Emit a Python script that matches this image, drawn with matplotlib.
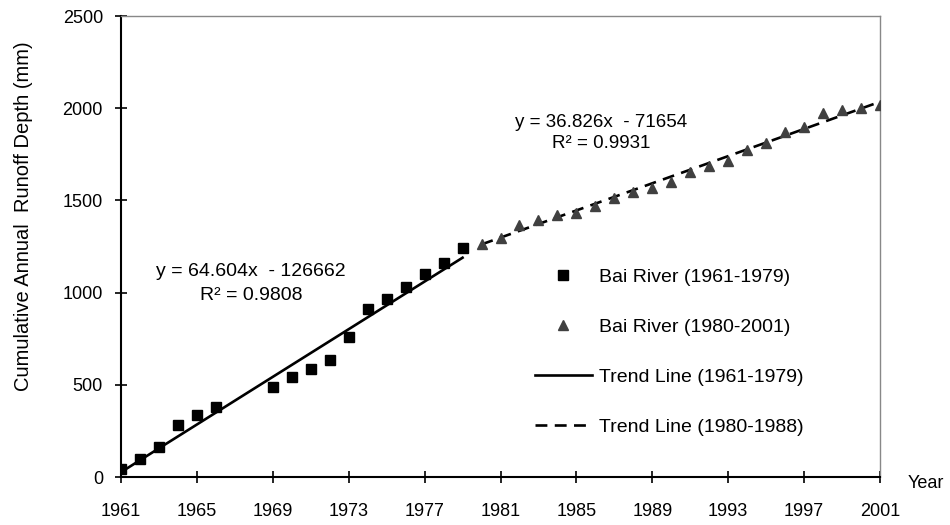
import numpy as np
import matplotlib.pyplot as plt

plt.rcParams['font.family'] = ['Liberation Sans', 'DejaVu Sans']

# Cumulative annual runoff depth (mm), Bai River
years_a = [1961, 1962, 1963, 1964, 1965, 1966, 1969, 1970, 1971, 1972,
           1973, 1974, 1975, 1976, 1977, 1978, 1979]
runoff_a = [43, 96, 164, 282, 336, 381, 490, 541, 586, 634,
            761, 911, 964, 1029, 1099, 1162, 1240]

years_b = list(range(1980, 2002))
runoff_b = [1265, 1294, 1367, 1394, 1421, 1433, 1468, 1511, 1547, 1566,
            1601, 1656, 1687, 1715, 1773, 1809, 1873, 1896, 1972, 1990,
            1999, 2017]

# trend line coefficients (slope, intercept, R^2)
fit_a = (64.604, -126662, 0.9808)
fit_b = (36.826, -71654, 0.9931)

xticks = list(range(1961, 2002, 4))
yticks = [0, 500, 1000, 1500, 2000, 2500]

fig = plt.figure(figsize=(9.5, 5.25), dpi=100)
ax = fig.add_axes([0.1274, 0.0914, 0.7989, 0.8781])

ax.plot(years_a, runoff_a, 's', color='black', markersize=7,
        label='Bai River (1961-1979)', zorder=3)
ax.plot(years_b, runoff_b, '^', color='#404040', markersize=7.5,
        label='Bai River (1980-2001)', zorder=3)

xa = np.array([years_a[0], years_a[-1]])
ax.plot(xa, fit_a[0] * xa + fit_a[1], '-', color='black', lw=1.9,
        label='Trend Line (1961-1979)')
xb = np.array([years_b[0], years_b[-1]])
ax.plot(xb, fit_b[0] * xb + fit_b[1], '--', color='black', lw=1.9,
        dashes=(4.5, 2.8), label='Trend Line (1980-1988)')

# regression equations
ax.text(1967.85, 1113, 'y = %.3fx  - %d' % (fit_a[0], -fit_a[1]),
        ha='center', va='center', fontsize=14)
ax.text(1967.85, 987, 'R² = %.4f' % fit_a[2], ha='center', va='center', fontsize=14)
ax.text(1986.3, 1925, 'y = %.3fx  - %d' % (fit_b[0], -fit_b[1]),
        ha='center', va='center', fontsize=13.5)
ax.text(1986.3, 1811, 'R² = %.4f' % fit_b[2], ha='center', va='center', fontsize=13.5)

ax.set_xlim(1961, 2001)
ax.set_ylim(0, 2500)
ax.set_xticks(xticks)
ax.set_yticks(yticks)
ax.tick_params(direction='inout', length=8, width=1.2, labelsize=13)
ax.tick_params(axis='y', pad=9)
ax.tick_params(axis='x', pad=15)

for s in ['left', 'bottom']:
    ax.spines[s].set_linewidth(1.5)
    ax.spines[s].set_color('black')
for s in ['top', 'right']:
    ax.spines[s].set_linewidth(1.0)
    ax.spines[s].set_color('#888888')

fig.text(24 / 950, 1 - 216 / 525, 'Cumulative Annual  Runoff Depth (mm)',
         rotation=90, ha='center', va='center', fontsize=14.5)
ax.text(1.037, -0.015, 'Year', transform=ax.transAxes, fontsize=13, va='center')

ax.legend(loc='center left', bbox_to_anchor=(535 / 950, 1 - 352 / 525),
          bbox_transform=fig.transFigure, frameon=False, numpoints=1,
          fontsize=14, handlelength=2.93, handletextpad=0.36,
          labelspacing=1.66, borderpad=0, borderaxespad=0)

fig.savefig('out.png', dpi=100)
